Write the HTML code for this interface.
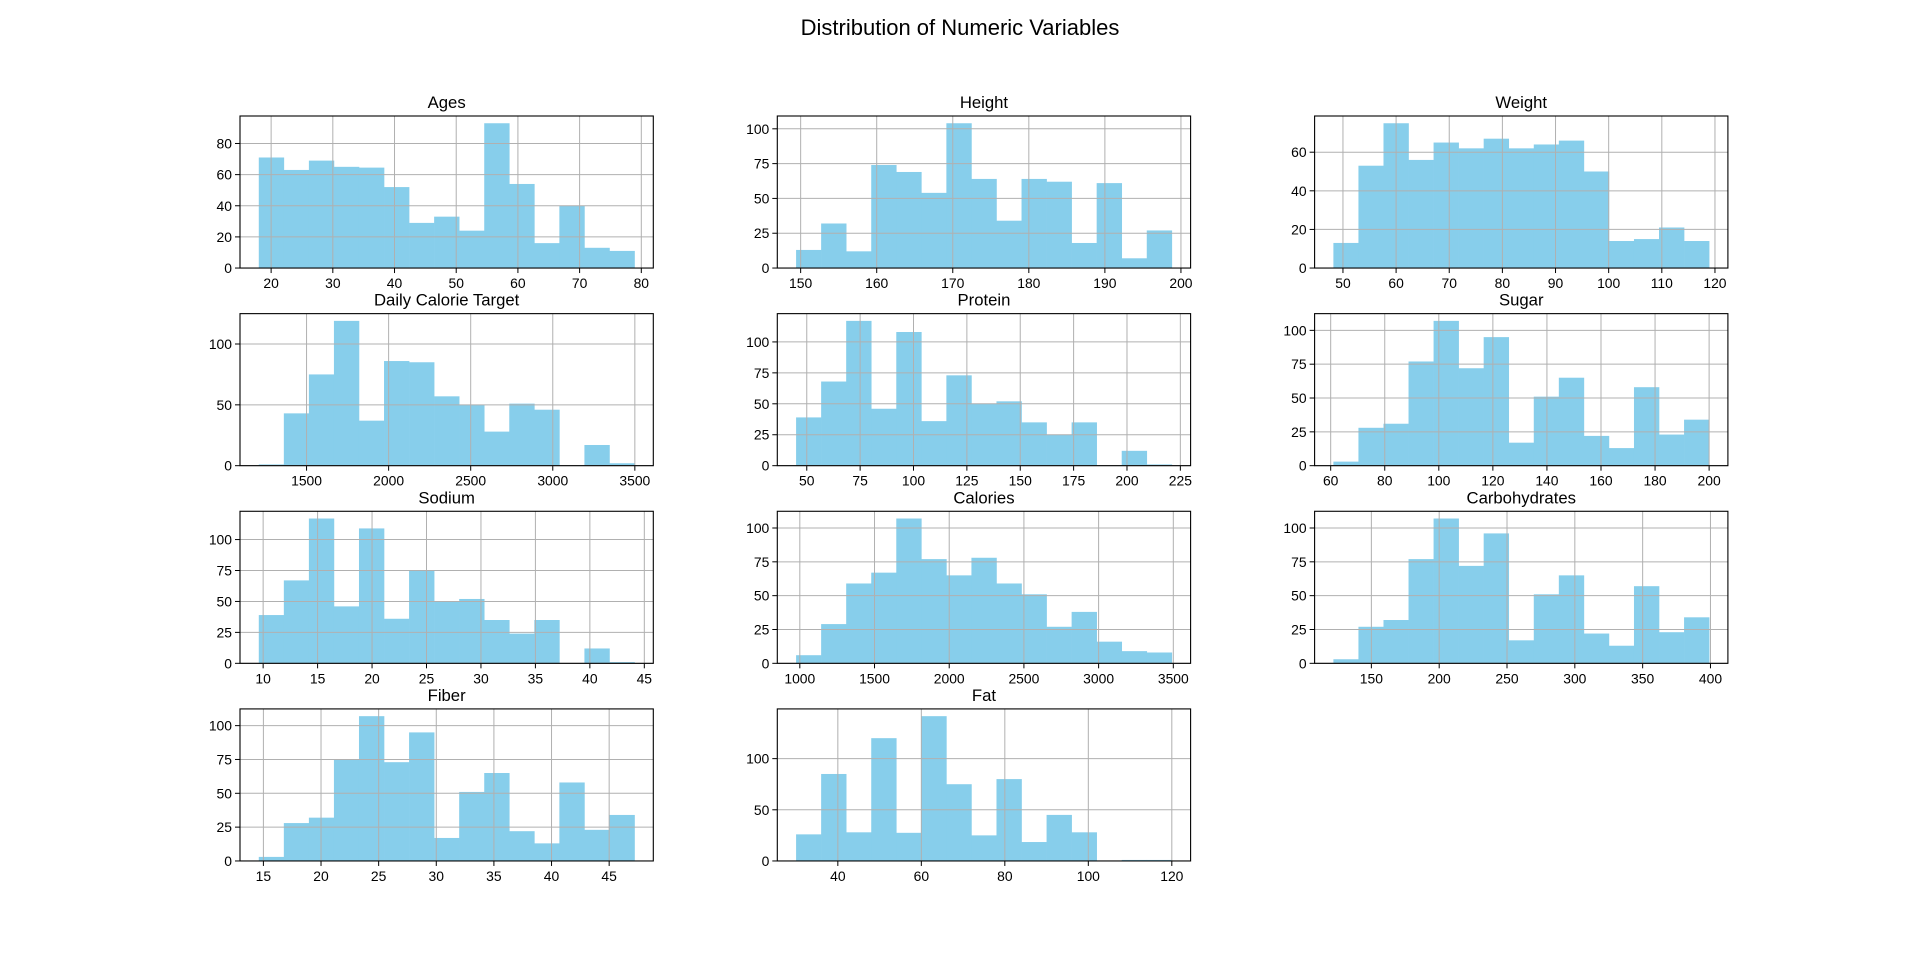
<!DOCTYPE html>
<html><head><meta charset="utf-8"><style>
html,body{margin:0;padding:0;background:#fff;}
svg{display:block;font-family:"Liberation Sans","DejaVu Sans",sans-serif;}
</style></head><body>
<svg id="fig" width="1920" height="967" xmlns="http://www.w3.org/2000/svg">
<rect width="1920" height="967" fill="#fff"/>
<text x="960" y="35" text-anchor="middle" font-size="22" fill="#000">Distribution of Numeric Variables</text>
</svg>
<script>
const titles = ["Ages","Height","Weight","Daily Calorie Target","Protein","Sugar","Sodium","Calories","Carbohydrates","Fiber","Fat"];
const ranges = [[18,78.9],[149.4,198.8],[48.2,118.9],[1209,3498],[45,221],[61,200],[9.6,44.1],[975,3490],[122,399],[14.6,47.2],[30,120]];
const counts = [
 [71,63,69,65,64.5,52,29,33,24,93,54,16,40,13,11],
 [13,32,12,74,69,54,104,64,34,64,62,18,61,7,27],
 [13,53,75,56,65,62,67,62,64,66,50,14,15,21,14],
 [1,43,75,119,37,86,85,57,50,28,51,46,0,17,2],
 [39,68,117,46,108,36,73,50,52,35,25,35,0,12,1],
 [3,28,31,77,107,72,95,17,51,65,22,13,58,23,34],
 [39,67,117,46,109,36,75,50,52,35,24,35,0,12,1],
 [6,29,59,67,107,77,65,78,59,51,27,38,16,9,8],
 [3,27,32,77,107,72,96,17,51,65,22,13,57,23,34],
 [3,28,32,75,107,73,95,17,51,65,22,13,58,23,34],
 [26,85,28,120,27.5,141.5,75,25,80,18.5,45,28,0,1,1]
];
const xTicks = [
 [20,30,40,50,60,70,80],[150,160,170,180,190,200],[50,60,70,80,90,100,110,120],
 [1500,2000,2500,3000,3500],[50,75,100,125,150,175,200,225],[60,80,100,120,140,160,180,200],
 [10,15,20,25,30,35,40,45],[1000,1500,2000,2500,3000,3500],[150,200,250,300,350,400],
 [15,20,25,30,35,40,45],[40,60,80,100,120]
];
const yTicks = [
 [0,20,40,60,80],[0,25,50,75,100],[0,20,40,60],[0,50,100],[0,25,50,75,100],[0,25,50,75,100],
 [0,25,50,75,100],[0,25,50,75,100],[0,25,50,75,100],[0,25,50,75,100],[0,50,100]
];
const NS="http://www.w3.org/2000/svg";
const svg=document.getElementById('fig');
const W=413.3, G=124, H=152.04, VG=45.6, L=240, T=116;
function mk(t,a,p){const e=document.createElementNS(NS,t);for(const k in a)e.setAttribute(k,a[k]);(p||svg).appendChild(e);return e;}
titles.forEach((title,i)=>{
  const r=Math.floor(i/3), c=i%3;
  const x0=L+c*(W+G), y0=T+r*(H+VG);
  const [mn,mx]=ranges[i]; const R=mx-mn;
  const xl=mn-0.05*R, xh=mx+0.05*R;
  const ymax=Math.max(...counts[i])*1.05;
  const sx=v=>x0+(v-xl)/(xh-xl)*W;
  const sy=v=>y0+H-v/ymax*H;
  const g=mk('g',{});
  
  
  const n=counts[i].length, bw=R/n;
  counts[i].forEach((v,j)=>{
    if(v<=0)return;
    const a=sx(mn+j*bw), b=sx(mn+(j+1)*bw);
    const rect=mk('rect',{x:a,y:sy(v),width:b-a+0.3,height:sy(0)-sy(v),fill:'#87CEEB'},g);
    
    
  });
  xTicks[i].forEach(t=>{
    const x=sx(t);
    mk('line',{x1:x,x2:x,y1:y0,y2:y0+H,stroke:'#b0b0b0','stroke-width':1},g);
    mk('line',{x1:x,x2:x,y1:y0+H,y2:y0+H+5,stroke:'#000','stroke-width':1},g);
    const tx=mk('text',{x:x,y:y0+H+20,'text-anchor':'middle','font-size':13.9,fill:'#000'},g);
    tx.textContent=t;
    
    
  });
  yTicks[i].forEach(t=>{
    const y=sy(t);
    mk('line',{x1:x0,x2:x0+W,y1:y,y2:y,stroke:'#b0b0b0','stroke-width':1},g);
    mk('line',{x1:x0-5,x2:x0,y1:y,y2:y,stroke:'#000','stroke-width':1},g);
    const tx=mk('text',{x:x0-8,y:y+5,'text-anchor':'end','font-size':13.9,fill:'#000'},g);
    tx.textContent=t;
    
    
  });
  mk('rect',{x:x0,y:y0,width:W,height:H,fill:'none',stroke:'#000','stroke-width':1.1},g);
  const tt=mk('text',{x:x0+W/2,y:y0-8,'text-anchor':'middle','font-size':16.7,fill:'#000'},g);
  tt.textContent=title;
  
  
});
</script>
</body></html>
